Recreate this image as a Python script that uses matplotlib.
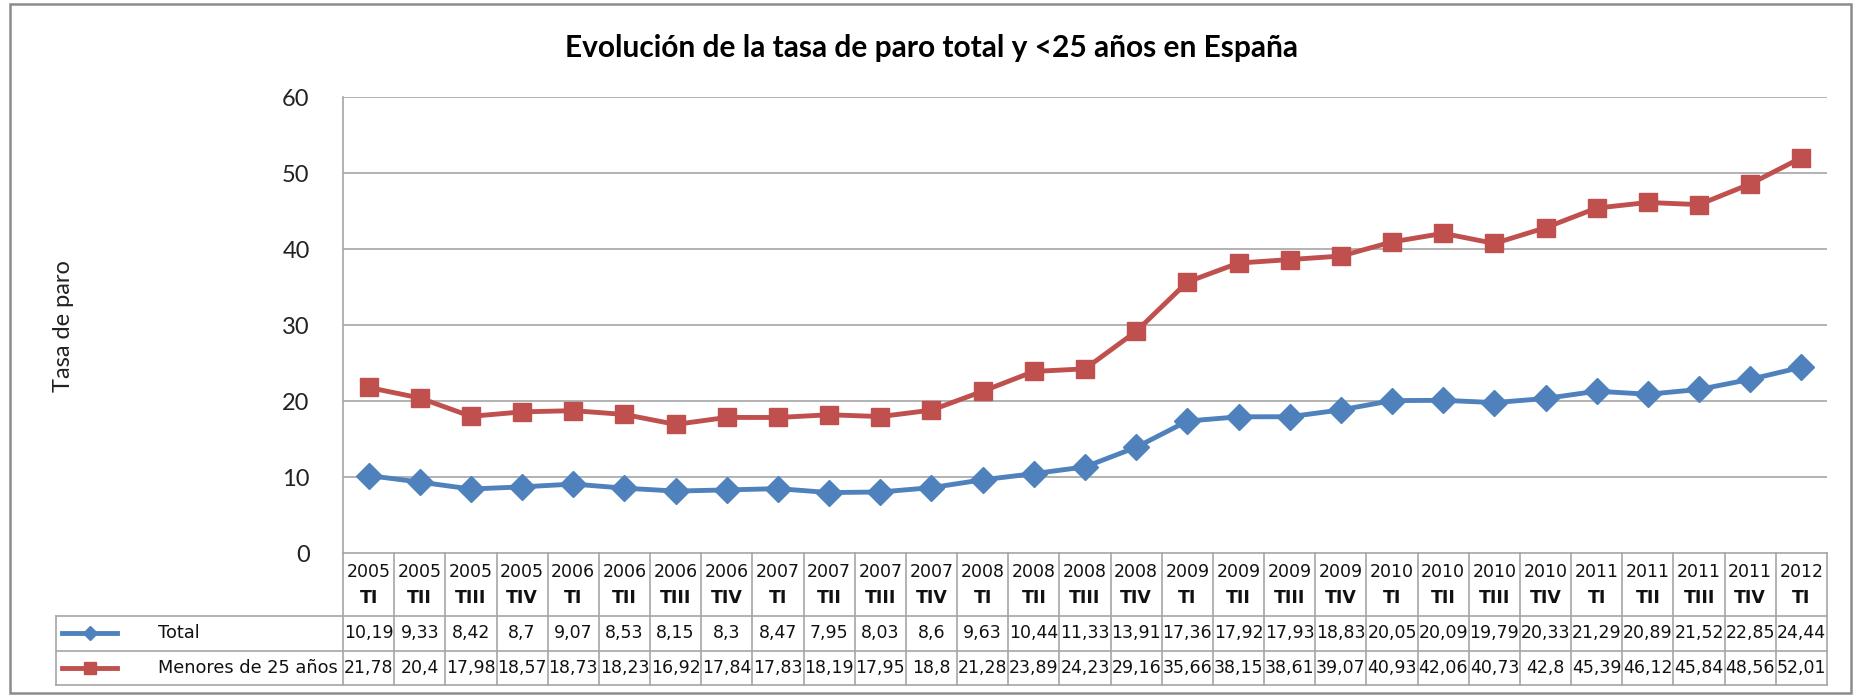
import numpy as np
import matplotlib
matplotlib.use("Agg")
import matplotlib.pyplot as plt
from matplotlib.lines import Line2D
from matplotlib.patches import Rectangle
import matplotlib.transforms as mtransforms

years = ["2005"] * 4 + ["2006"] * 4 + ["2007"] * 4 + ["2008"] * 4 + ["2009"] * 4 + \
        ["2010"] * 4 + ["2011"] * 4 + ["2012"]
quarters = ["TI", "TII", "TIII", "TIV"] * 7 + ["TI"]
total = [10.19, 9.33, 8.42, 8.7, 9.07, 8.53, 8.15, 8.3, 8.47, 7.95, 8.03, 8.6,
         9.63, 10.44, 11.33, 13.91, 17.36, 17.92, 17.93, 18.83, 20.05, 20.09,
         19.79, 20.33, 21.29, 20.89, 21.52, 22.85, 24.44]
menores = [21.78, 20.4, 17.98, 18.57, 18.73, 18.23, 16.92, 17.84, 17.83, 18.19,
           17.95, 18.8, 21.28, 23.89, 24.23, 29.16, 35.66, 38.15, 38.61, 39.07,
           40.93, 42.06, 40.73, 42.8, 45.39, 46.12, 45.84, 48.56, 52.01]
series_names = ["Total", "Menores de 25 años"]
yticks = [0, 10, 20, 30, 40, 50, 60]

W, H = 1854, 695
BLUE = "#4F81BD"
RED = "#C0504D"
GRID = "#A6A6A6"

def fx(px):
    return px / W

def fy(px):
    return 1 - px / H

fig = plt.figure(figsize=(W / 100, H / 100), dpi=100)
fig.patch.set_facecolor("white")

# outer frame
fig.add_artist(Rectangle((fx(10), fy(693)), fx(1851) - fx(10), fy(4) - fy(693),
                         transform=fig.transFigure, fill=False, ec="#8C8C8C", lw=1.8))

ax = fig.add_axes([fx(343), fy(553), fx(1827) - fx(343), fy(97) - fy(553)])
x = np.arange(len(total))
ax.plot(x, total, color=BLUE, lw=3.5, marker="D", ms=13, zorder=3)
ax.plot(x, menores, color=RED, lw=3.5, marker="s", ms=13, zorder=3)

ax.set_xlim(-0.5, len(total) - 0.5)
ax.set_ylim(0, 60)
ax.set_yticks(yticks)
ax.set_yticklabels([str(t) for t in yticks], family="Lato", fontsize=17, color="#222222")
ax.tick_params(axis="y", length=0, pad=24)
ax.set_xticks([])
for s in ["top", "right", "bottom"]:
    ax.spines[s].set_visible(False)
ax.spines["left"].set_color(GRID)
ax.spines["left"].set_linewidth(1.2)
for t in yticks[1:]:
    ax.axhline(t, color=GRID, lw=1.2, zorder=1)

fig.text(fx(931), fy(48), "Evolución de la tasa de paro total y <25 años en España",
         family="Lato", weight="bold", fontsize=21.5, ha="center", va="center")
fig.text(fx(64), fy(326), "Tasa de paro", family="Lato", fontsize=17,
         rotation=90, ha="center", va="center", color="#222222")

# data table below the axis
tr = mtransforms.blended_transform_factory(ax.transData, fig.transFigure)
n = len(total)
row_y = [553, 616, 651, 685]
for i in range(n + 1):
    fig.add_artist(Line2D([i - 0.5, i - 0.5], [fy(553), fy(685)], transform=tr,
                          color=GRID, lw=1.2))
fig.add_artist(Line2D([-0.5, n - 0.5], [fy(553), fy(553)], transform=tr, color=GRID, lw=1.2))
for yy in row_y[1:]:
    fig.add_artist(Line2D([fx(56), fx(1827)], [fy(yy), fy(yy)], transform=fig.transFigure,
                          color=GRID, lw=1.2))
fig.add_artist(Line2D([fx(56), fx(56)], [fy(616), fy(685)], transform=fig.transFigure,
                      color=GRID, lw=1.2))

tfont = dict(family="DejaVu Sans", fontsize=12.5, color="#111111")
for i in range(n):
    fig.text(i, fy(572), years[i], transform=tr, ha="center", va="center", **tfont)
    fig.text(i, fy(598), quarters[i], transform=tr, ha="center", va="center",
             weight="bold", **tfont)
    fig.text(i, fy(633), f"{total[i]:g}".replace(".", ","), transform=tr,
             ha="center", va="center", **tfont)
    fig.text(i, fy(668), f"{menores[i]:g}".replace(".", ","), transform=tr,
             ha="center", va="center", **tfont)

for name, col, mk, ms, yy in [(series_names[0], BLUE, "D", 7, 633),
                              (series_names[1], RED, "s", 8, 668)]:
    fig.add_artist(Line2D([fx(62), fx(89.5), fx(117)], [fy(yy)] * 3, transform=fig.transFigure,
                          color=col, lw=3.5, marker=mk, ms=ms, markevery=[1]))
    fig.text(fx(158), fy(yy), name, ha="left", va="center",
             **dict(tfont, fontsize=12.8))

fig.savefig("out.png", dpi=100)
